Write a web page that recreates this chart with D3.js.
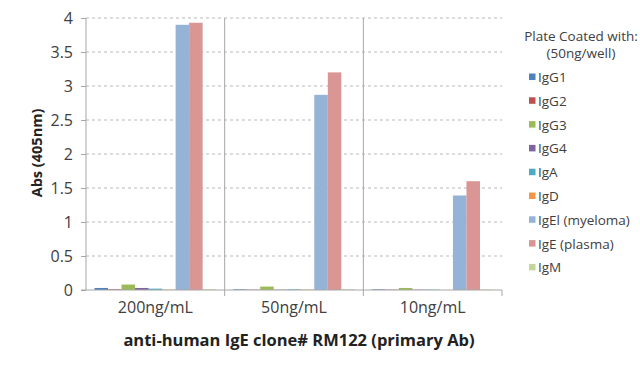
<!DOCTYPE html>
<html>
<head>
<meta charset="utf-8">
<script src="https://cdn.jsdelivr.net/npm/d3@7"></script>
<style>
  body { margin: 0; background: #fff; }
  svg { font-family: "Open Sans", sans-serif; }
</style>
</head>
<body>
<div id="chart"></div>
<script>
var groups = ["200ng/mL", "50ng/mL", "10ng/mL"];
var series = ["IgG1", "IgG2", "IgG3", "IgG4", "IgA", "IgD", "IgEl (myeloma)", "IgE (plasma)", "IgM"];
var colors = ["#4f81bd", "#c0504d", "#9bbb59", "#8064a2", "#4bacc6", "#f79646", "#95b3d7", "#d99694", "#c3d69b"];
// values per series, in order of groups
var IgG1 = [0.03, 0.01, 0.01];
var IgG2 = [0.01, 0.005, 0.005];
var IgG3 = [0.08, 0.05, 0.03];
var IgG4 = [0.03, 0.005, 0.005];
var IgA = [0.02, 0.01, 0.005];
var IgD = [0.005, 0.005, 0.0];
var IgEmyeloma = [3.9, 2.87, 1.39];
var IgEplasma = [3.93, 3.2, 1.6];
var IgM = [0.01, 0.01, 0.005];
var yTicks = [0, 0.5, 1, 1.5, 2, 2.5, 3, 3.5, 4];

var values = [IgG1, IgG2, IgG3, IgG4, IgA, IgD, IgEmyeloma, IgEplasma, IgM];

var width = 640, height = 367;
var margin = { top: 18, left: 86, right: 138, bottom: 77 };
var innerW = width - margin.left - margin.right,
    innerH = height - margin.top - margin.bottom;

var svg = d3.select("#chart").append("svg")
  .attr("width", width)
  .attr("height", height);

var g = svg.append("g")
  .attr("transform", "translate(" + margin.left + "," + margin.top + ")");

var x0 = d3.scaleBand().domain(groups).range([0, innerW]).paddingInner(0).paddingOuter(0);
var x1 = d3.scaleBand().domain(series).range([8.5, x0.bandwidth() - 8.5]).padding(0);
var y = d3.scaleLinear().domain([0, 4]).range([innerH, 0]);

// dashed gridlines
g.selectAll(".grid")
  .data(yTicks.slice(1))
  .enter().append("line")
  .attr("x1", 0).attr("x2", innerW)
  .attr("y1", function(d) { return y(d); })
  .attr("y2", function(d) { return y(d); })
  .attr("stroke", "#b9b9b9")
  .attr("stroke-width", 1)
  .attr("stroke-dasharray", "3,3");

// category separators
g.selectAll(".sep")
  .data(groups.slice(1))
  .enter().append("line")
  .attr("x1", function(d) { return x0(d); })
  .attr("x2", function(d) { return x0(d); })
  .attr("y1", 0).attr("y2", innerH + 6)
  .attr("stroke", "#a6a6a6");

g.append("line")
  .attr("x1", innerW).attr("x2", innerW)
  .attr("y1", innerH).attr("y2", innerH + 6)
  .attr("stroke", "#a6a6a6");

// bars
var bars = [];
series.forEach(function(s, i) {
  groups.forEach(function(gr, j) {
    bars.push({ series: s, group: gr, value: values[i][j], color: colors[i] });
  });
});

g.selectAll("rect.bar")
  .data(bars)
  .enter().append("rect")
  .attr("class", "bar")
  .attr("x", function(d) { return x0(d.group) + x1(d.series); })
  .attr("width", x1.bandwidth())
  .attr("y", function(d) { return y(d.value); })
  .attr("height", function(d) { return Math.max(innerH - y(d.value), 0); })
  .attr("fill", function(d) { return d.color; });

// y axis
var yAxis = d3.axisLeft(y).tickValues(yTicks).tickSize(5).tickFormat(d3.format("~g"));
var ya = g.append("g").attr("class", "axis y-axis").call(yAxis);
ya.select(".domain").attr("stroke", "#a6a6a6").attr("d", "M0,0V" + innerH);
ya.selectAll(".tick line").attr("stroke", "#a6a6a6");
ya.selectAll("text").attr("font-size", 16).attr("fill", "#404040")
  .attr("font-family", "'Open Sans', sans-serif").attr("x", -13);

// x axis
var xAxis = d3.axisBottom(x0).tickSize(0).tickPadding(12);
var xa = g.append("g").attr("class", "axis x-axis")
  .attr("transform", "translate(0," + innerH + ")")
  .call(xAxis);
xa.select(".domain").attr("stroke", "#a6a6a6").attr("d", "M-5,0H" + innerW);
xa.selectAll("text").attr("font-size", 16).attr("fill", "#404040")
  .attr("font-family", "'Open Sans', sans-serif");

// axis titles
svg.append("text")
  .attr("text-anchor", "middle")
  .attr("transform", "translate(" + 37 + "," + 153 + ")rotate(-90)")
  .attr("dy", "0.35em")
  .attr("font-size", 14.5)
  .attr("font-weight", "bold")
  .attr("fill", "#222")
  .text("Abs (405nm)");

svg.append("text")
  .attr("text-anchor", "middle")
  .attr("x", 299).attr("y", 346)
  .attr("font-size", 16.5)
  .attr("font-weight", "bold")
  .attr("fill", "#222")
  .text("anti-human IgE clone# RM122 (primary Ab)");

// legend
var legend = svg.append("g").attr("transform", "translate(526,0)");
legend.append("text")
  .attr("x", 55).attr("y", 41)
  .attr("text-anchor", "middle")
  .attr("font-size", 13.5).attr("fill", "#404040")
  .text("Plate Coated with:");
legend.append("text")
  .attr("x", 55).attr("y", 58)
  .attr("text-anchor", "middle")
  .attr("font-size", 13.5).attr("fill", "#404040")
  .text("(50ng/well)");

var item = legend.selectAll(".item")
  .data(series)
  .enter().append("g")
  .attr("transform", function(d, i) { return "translate(0," + (77 + i * 23.8) + ")"; });
item.append("rect")
  .attr("x", 3).attr("y", -3.5)
  .attr("width", 6.5).attr("height", 6.5)
  .attr("fill", function(d, i) { return colors[i]; });
item.append("text")
  .attr("x", 12).attr("y", 5)
  .attr("font-size", 13.5).attr("fill", "#404040")
  .text(function(d) { return d; });
</script>
</body>
</html>
